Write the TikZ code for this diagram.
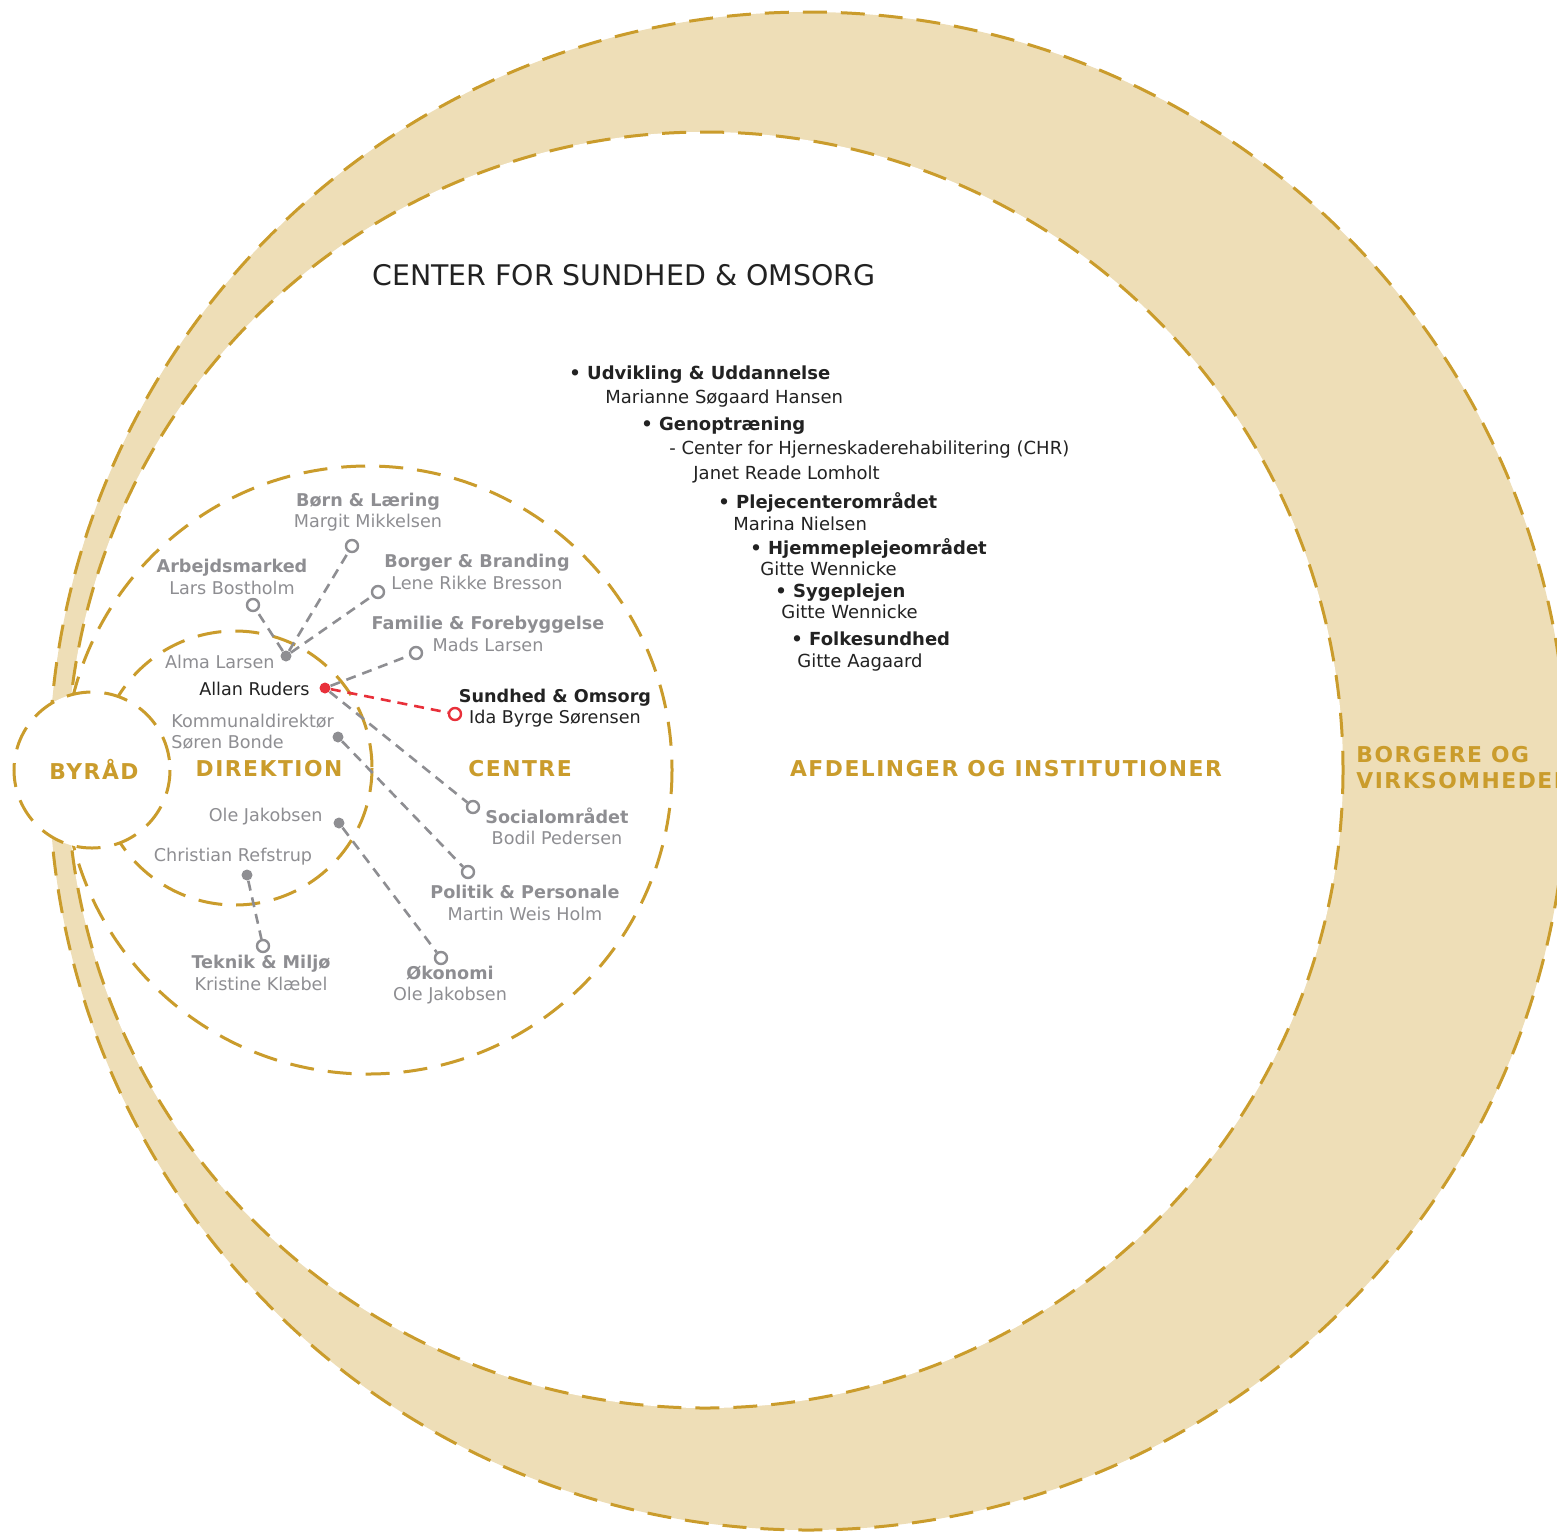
\documentclass[tikz,border=0pt]{standalone}
\usepackage{fontspec}
\setmainfont{DejaVu Sans}
\newfontfamily\goldfont[LetterSpace=7]{DejaVu Sans}
\usepackage{tikz}
\usetikzlibrary{positioning}

\definecolor{ringgold}{RGB}{202,156,44}
\definecolor{ringtan}{RGB}{238,222,183}
\definecolor{unitgray}{RGB}{142,142,146}
\definecolor{accentred}{RGB}{232,48,58}
\definecolor{inkblack}{RGB}{34,34,34}

\begin{document}
\begin{tikzpicture}[x=0.5pt,y=0.5pt,yscale=-1,
  ring/.style={draw=ringgold, line width=1.5pt, dash pattern=on 12pt off 7pt},
  link/.style={draw=unitgray, line width=1.3pt, dash pattern=on 5pt off 3.5pt},
  redlink/.style={link, draw=accentred},
  pin/.style={circle, fill=unitgray, inner sep=0pt, minimum size=5.5pt},
  redpin/.style={pin, fill=accentred},
  pinend/.style={circle, draw=unitgray, line width=1.2pt, fill=white, inner sep=0pt, minimum size=6pt},
  redpinend/.style={pinend, draw=accentred},
  levellabel/.style={inner sep=0pt, text=ringgold, font=\goldfont\bfseries\fontsize{10.9}{13}\selectfont},
  unitlabel/.style={inner sep=0pt, align=center, text=unitgray, font=\fontsize{8.8}{10.6}\selectfont},
  namelabel/.style={inner sep=0pt, text=unitgray, font=\fontsize{8.8}{10.6}\selectfont},
  listlabel/.style={inner sep=0pt, anchor=west, text=inkblack, font=\fontsize{9}{10.6}\selectfont}]
\useasboundingbox (0,0) rectangle (1557,1532);

%Rings
\draw [ring, fill=ringtan] (808,771) circle [radius=759];
\draw [ring, fill=white] (705,770) circle [radius=638];
\draw [ring, fill=white] (368,770) circle [radius=304];
\draw [ring] (235,768) circle [radius=137];
\draw [ring, fill=white] (92,770) circle [radius=78];

%Level labels
\node [levellabel] (byraad) at (94,769) {BYRÅD};
\node [levellabel] (direktion) at (269,769) {DIREKTION};
\node [levellabel] (centre) at (520,769) {CENTRE};
\node [levellabel] (afdelinger) at (1006,769) {AFDELINGER OG INSTITUTIONER};
\node [levellabel, anchor=west, align=left] (borgere) at (1356,768) {BORGERE OG\\VIRKSOMHEDER};

%Title
\node [inner sep=0pt, anchor=west, text=inkblack, font=\fontsize{14.2}{16}\selectfont] (title) at (372,275) {CENTER FOR SUNDHED \& OMSORG};

%Afdelinger list
\node [listlabel] (udvikling) at (569,375) {\textbf{• Udvikling \& Uddannelse}};
\node [listlabel] (udviklingname) at (605,399) {Marianne Søgaard Hansen};
\node [listlabel] (genoptraening) at (641,426) {\textbf{• Genoptræning}};
\node [listlabel] (chr) at (669,450) {- Center for Hjerneskaderehabilitering (CHR)};
\node [listlabel] (chrname) at (693,474) {Janet Reade Lomholt};
\node [listlabel] (pleje) at (718,502) {\textbf{• Plejecenterområdet}};
\node [listlabel] (plejename) at (733,524) {Marina Nielsen};
\node [listlabel] (hjemme) at (750,548) {\textbf{• Hjemmeplejeområdet}};
\node [listlabel] (hjemmename) at (760,569) {Gitte Wennicke};
\node [listlabel] (syge) at (775,593) {\textbf{• Sygeplejen}};
\node [listlabel] (sygename) at (781,612) {Gitte Wennicke};
\node [listlabel] (folke) at (791,639) {\textbf{• Folkesundhed}};
\node [listlabel] (folkename) at (797,663) {Gitte Aagaard};

%Centre labels
\node [unitlabel] (born) at (368,512) {\textbf{Børn \& Læring}\\Margit Mikkelsen};
\node [unitlabel] (arbejd) at (232,577) {\textbf{Arbejdsmarked}\\Lars Bostholm};
\node [unitlabel] (borger) at (477,572) {\textbf{Borger \& Branding}\\Lene Rikke Bresson};
\node [unitlabel] (familie) at (488,634) {\textbf{Familie \& Forebyggelse}\\Mads Larsen};
\node [unitlabel, text=inkblack] (sundhed) at (555,708) {\textbf{Sundhed \& Omsorg}\\Ida Byrge Sørensen};
\node [unitlabel] (social) at (557,826) {\textbf{Socialområdet}\\Bodil Pedersen};
\node [unitlabel] (politik) at (525,903) {\textbf{Politik \& Personale}\\Martin Weis Holm};
\node [unitlabel] (okonomi) at (450,985) {\textbf{Økonomi}\\Ole Jakobsen};
\node [unitlabel] (teknik) at (261,973) {\textbf{Teknik \& Miljø}\\Kristine Klæbel};

%Direktion names
\node [namelabel, anchor=east] (alma) at (275,662) {Alma Larsen};
\node [namelabel, anchor=east, text=inkblack] (allan) at (310,689) {Allan Ruders};
\node [namelabel, anchor=west, align=left] (soren) at (171,732) {Kommunaldirektør\\Søren Bonde};
\node [namelabel, anchor=east] (ole) at (323,817) {Ole Jakobsen};
\node [namelabel] (christian) at (233,857) {Christian Refstrup};

%Pins
\node [pin] (almadot) at (286,656) {};
\node [redpin] (allandot) at (325,688) {};
\node [pin] (sorendot) at (338,737) {};
\node [pin] (oledot) at (339,823) {};
\node [pin] (christiandot) at (247,875) {};

\node [pinend] (bornend) at (352,546) {};
\node [pinend] (arbejdend) at (253,605) {};
\node [pinend] (borgerend) at (378,592) {};
\node [pinend] (familieend) at (416,653) {};
\node [redpinend] (sundhedend) at (455,714) {};
\node [pinend] (socialend) at (473,807) {};
\node [pinend] (politikend) at (468,872) {};
\node [pinend] (okonomiend) at (441,958) {};
\node [pinend] (teknikend) at (263,946) {};

%Links
\draw [link] (almadot) -- (bornend);
\draw [link] (almadot) -- (arbejdend);
\draw [link] (almadot) -- (borgerend);
\draw [link] (allandot) -- (familieend);
\draw [redlink] (allandot) -- (sundhedend);
\draw [link] (allandot) -- (socialend);
\draw [link] (sorendot) -- (politikend);
\draw [link] (oledot) -- (okonomiend);
\draw [link] (christiandot) -- (teknikend);

\end{tikzpicture}
\end{document}
